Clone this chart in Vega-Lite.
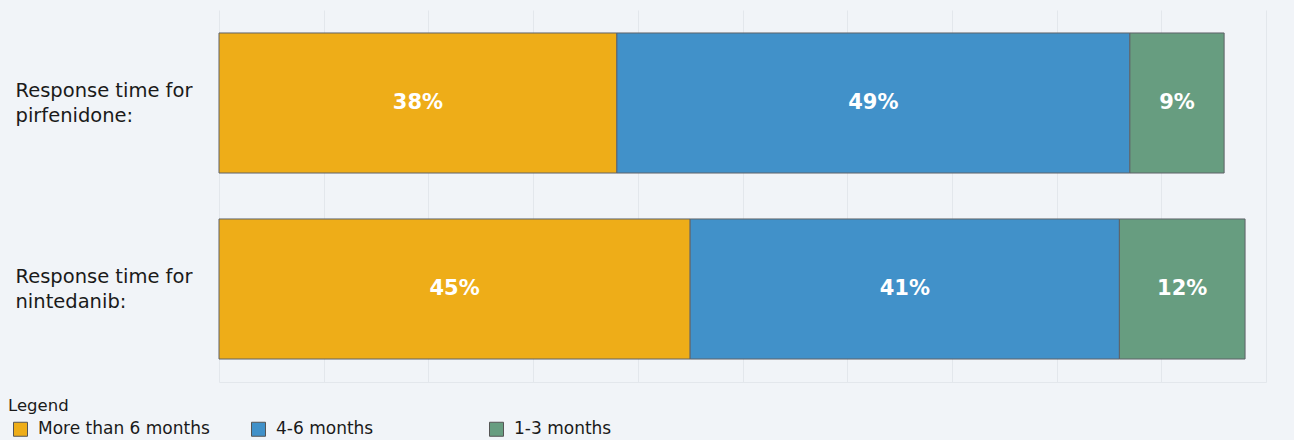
{
  "$schema": "https://vega.github.io/schema/vega-lite/v6.json",
  "width": 1047,
  "height": 372,
  "autosize": "none",
  "padding": {"left": 219, "top": 10, "right": 28, "bottom": 58},
  "background": "#f1f4f8",
  "config": {"view": {"stroke": null}, "font": "DejaVu Sans"},
  "data": {
    "values": [
      {"drug": "Response time for pirfenidone:", "time": "More than 6 months", "share": 0.38},
      {"drug": "Response time for pirfenidone:", "time": "4-6 months", "share": 0.49},
      {"drug": "Response time for pirfenidone:", "time": "1-3 months", "share": 0.09},
      {"drug": "Response time for nintedanib:", "time": "More than 6 months", "share": 0.45},
      {"drug": "Response time for nintedanib:", "time": "4-6 months", "share": 0.41},
      {"drug": "Response time for nintedanib:", "time": "1-3 months", "share": 0.12}
    ]
  },
  "transform": [
    {"stack": "share", "groupby": ["drug"], "sort": [{"field": "time", "order": "descending"}], "as": ["x0", "x1"]},
    {"calculate": "(datum.x0 + datum.x1) / 2", "as": "xm"}
  ],
  "encoding": {
    "y": {
      "field": "drug",
      "type": "nominal",
      "sort": null,
      "scale": {"paddingInner": 0.247, "paddingOuter": 0.1235},
      "axis": {
        "title": null,
        "domain": false,
        "ticks": false,
        "grid": false,
        "labelAlign": "left",
        "labelBaseline": "middle",
        "labelPadding": 204,
        "labelOffset": -12,
        "labelFontSize": 19.5,
        "labelColor": "#1a1a1a",
        "labelLineHeight": 25,
        "labelLimit": 300,
        "labelExpr": "[substring(datum.label, 0, 17), substring(datum.label, 18)]"
      }
    }
  },
  "layer": [
    {
      "mark": {"type": "bar", "stroke": "#5f6368", "strokeWidth": 1},
      "encoding": {
        "x": {
          "field": "x0",
          "type": "quantitative",
          "scale": {"domain": [0, 1]},
          "axis": {
            "title": null,
            "labels": false,
            "ticks": false,
            "domain": true,
            "domainColor": "#e3e7ec",
            "grid": true,
            "gridColor": "#e3e7ec",
            "values": [0, 0.1, 0.2, 0.3, 0.4, 0.5, 0.6, 0.7, 0.8, 0.9, 1]
          }
        },
        "x2": {"field": "x1"},
        "color": {
          "field": "time",
          "type": "nominal",
          "scale": {
            "domain": ["More than 6 months", "4-6 months", "1-3 months"],
            "range": ["#eead18", "#4191c9", "#679d80"]
          },
          "legend": {
            "title": "Legend",
            "orient": "none",
            "legendX": -211,
            "legendY": 388,
            "direction": "horizontal",
            "columns": 3,
            "gridAlign": "all",
            "columnPadding": 36,
            "symbolType": "square",
            "symbolSize": 196,
            "symbolStrokeColor": "#555555",
            "symbolStrokeWidth": 1,
            "symbolOffset": 4,
            "labelOffset": 9,
            "labelFontSize": 17,
            "labelColor": "#1a1a1a",
            "labelLimit": 300,
            "titleFontSize": 16.5,
            "titleFontWeight": "normal",
            "titleColor": "#1a1a1a",
            "titlePadding": 6
          }
        }
      }
    },
    {
      "mark": {"type": "text", "color": "#ffffff", "fontWeight": "bold", "fontSize": 21},
      "encoding": {
        "x": {"field": "xm", "type": "quantitative", "axis": {"title": null}},
        "text": {"field": "share", "type": "quantitative", "format": ".0%"}
      }
    }
  ]
}
